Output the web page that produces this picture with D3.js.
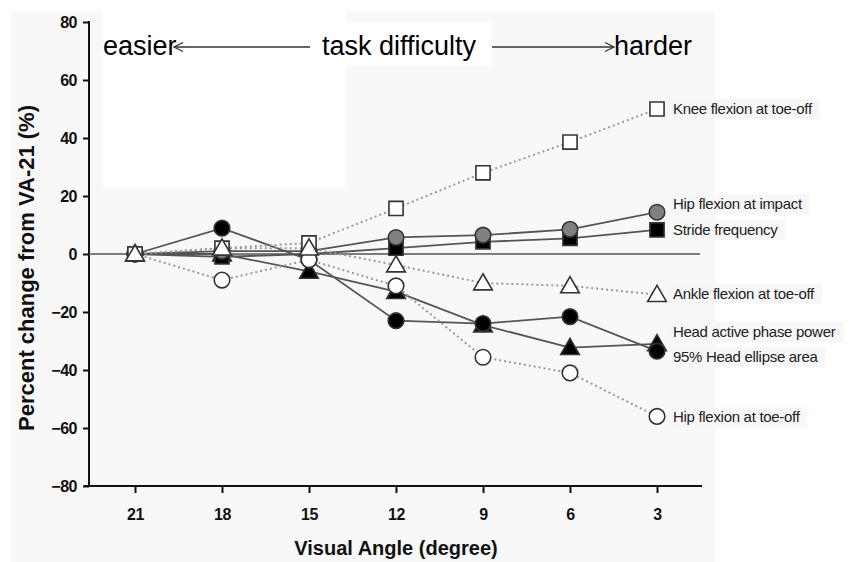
<!DOCTYPE html>
<html>
<head>
  <meta charset="utf-8">
  <title>Percent change from VA-21</title>
  <script src="https://d3js.org/d3.v7.min.js"></script>
  <style>
    body { margin: 0; background: #fff; }
    svg { font-family: "Liberation Sans", Arial, sans-serif; }
    .tick text { font-weight: bold; font-size: 16px; fill: #111; }
    .tick line { stroke: #111; stroke-width: 2px; }
  </style>
</head>
<body>
<svg id="chart" width="856" height="562"></svg>
<script>
// visual angle categories (degree), easier -> harder
var angles = ["21", "18", "15", "12", "9", "6", "3"];
var yTicks = [-80, -60, -40, -20, 0, 20, 40, 60, 80];

// percent change from VA-21
var kneeToeOff    = [0, 2, 3.8, 15.7, 28, 38.6, 50];
var hipImpact     = [0, 1, 1, 5.7, 6.5, 8.5, 14.4];
var strideFreq    = [0, -1, 0, 2, 4.2, 5.4, 8.3];
var ankleToeOff   = [0, 2, 2, -3.8, -10, -11, -14];
var headPower     = [0, 0, -6, -13, -24.5, -32.3, -31];
var headEllipse   = [0, 8.9, -2, -23, -24, -21.6, -33.5];
var hipToeOff     = [0, -9, -2, -11, -35.6, -41, -56];

// draw order: back to front
var series = [
  {name: "Head active phase power", values: headPower,   shape: "triangle", fill: "#000", dotted: false, dy: -7},
  {name: "Stride frequency",        values: strideFreq,  shape: "square",   fill: "#000", dotted: false, dy: 5},
  {name: "Hip flexion at impact",   values: hipImpact,   shape: "circle",   fill: "#808080", dotted: false, dy: -3},
  {name: "95% Head ellipse area",   values: headEllipse, shape: "circle",   fill: "#000", dotted: false, dy: 11},
  {name: "Hip flexion at toe-off",  values: hipToeOff,   shape: "circle",   fill: "#fff", dotted: true, dy: 6},
  {name: "Knee flexion at toe-off", values: kneeToeOff,  shape: "square",   fill: "#fff", dotted: true, dy: 5},
  {name: "Ankle flexion at toe-off",values: ankleToeOff, shape: "triangle", fill: "#fff", dotted: true, dy: 4}
];

var svg = d3.select("#chart");

// backgrounds of the pasted figure
svg.append("rect").attr("x", 11).attr("y", 11).attr("width", 704).attr("height", 551).attr("fill", "#f8f8f8");
svg.append("rect").attr("x", 103).attr("y", 11).attr("width", 243).attr("height", 177).attr("fill", "#fff");
svg.append("rect").attr("x", 345).attr("y", 22).attr("width", 147).attr("height", 44).attr("fill", "#fff");

var x = d3.scalePoint().domain(angles).range([135, 657]);
var y = d3.scaleLinear().domain([-80, 80]).range([486, 22]);

// axes
var yAxis = svg.append("g")
  .attr("transform", "translate(89,0)")
  .call(d3.axisLeft(y).tickValues(yTicks).tickSize(6).tickSizeOuter(0).tickPadding(6)
    .tickFormat(d3.format("d")));
yAxis.select(".domain").remove();
yAxis.selectAll(".tick text").attr("dy", "0.36em").attr("letter-spacing", "-0.5");
svg.append("line").attr("x1", 89).attr("x2", 89).attr("y1", y(80) - 1).attr("y2", y(-80))
  .attr("stroke", "#111").attr("stroke-width", 2);

var xAxis = svg.append("g")
  .attr("transform", "translate(0," + y(-80) + ")")
  .call(d3.axisBottom(x).tickSize(7).tickSizeOuter(0).tickPadding(16));
xAxis.select(".domain").remove();
xAxis.selectAll(".tick text").attr("letter-spacing", "-0.5");
svg.append("line").attr("x1", 84).attr("x2", 702).attr("y1", y(-80)).attr("y2", y(-80))
  .attr("stroke", "#111").attr("stroke-width", 2);

// zero reference line
svg.append("line").attr("x1", 89).attr("x2", 700).attr("y1", y(0)).attr("y2", y(0))
  .attr("stroke", "#555").attr("stroke-width", 1.5);

// axis titles
svg.append("text")
  .attr("x", 396).attr("y", 555)
  .attr("text-anchor", "middle")
  .attr("font-weight", "bold").attr("font-size", 20).attr("fill", "#111")
  .text("Visual Angle (degree)");
svg.append("text")
  .attr("transform", "translate(34,268) rotate(-90)")
  .attr("text-anchor", "middle")
  .attr("font-weight", "bold").attr("font-size", 22).attr("fill", "#111")
  .text("Percent change from VA-21 (%)");

// lines
var line = d3.line()
  .x(function(d, i) { return x(angles[i]); })
  .y(function(d) { return y(d); });

svg.selectAll(".series-line")
  .data(series)
  .enter()
  .append("path")
  .attr("class", "series-line")
  .attr("d", function(d) { return line(d.values); })
  .attr("fill", "none")
  .attr("stroke", function(d) { return d.dotted ? "#999" : "#555"; })
  .attr("stroke-width", function(d) { return d.dotted ? 2 : 1.8; })
  .attr("stroke-dasharray", function(d) { return d.dotted ? "2,3" : null; });

// markers
var symbolType = {circle: d3.symbolCircle, square: d3.symbolSquare, triangle: d3.symbolTriangle};
var symbolSize = {circle: 190, square: 200, triangle: 150};

series.forEach(function(s) {
  var sym = d3.symbol().type(symbolType[s.shape]).size(symbolSize[s.shape]);
  svg.append("g").selectAll("path")
    .data(s.values)
    .enter()
    .append("path")
    .attr("transform", function(d, i) {
      var off = s.shape === "triangle" ? 1.5 : 0;
      return "translate(" + x(angles[i]) + "," + (y(d) + off) + ")";
    })
    .attr("d", sym)
    .attr("fill", s.fill)
    .attr("stroke", "#333")
    .attr("stroke-width", 1.6);
});

// end labels
var labels = svg.append("g").selectAll("g")
  .data(series)
  .enter()
  .append("g")
  .attr("transform", function(d) {
    return "translate(" + (x("3") + 16) + "," + (y(d.values[d.values.length - 1]) + d.dy) + ")";
  });
labels.append("rect")
  .attr("x", -4).attr("y", -15).attr("height", 20)
  .attr("fill", "#f7f7f7");
labels.append("text")
  .attr("font-size", 15).attr("fill", "#222").attr("letter-spacing", "-0.3")
  .text(function(d) { return d.name; });
labels.each(function() {
  var g = d3.select(this);
  var w = g.select("text").node().getComputedTextLength();
  g.select("rect").attr("width", w + 12);
});

// task difficulty annotation
var ann = svg.append("g").attr("font-size", 27).attr("fill", "#000");
ann.append("text").attr("x", 103).attr("y", 55).text("easier");
ann.append("text").attr("x", 322).attr("y", 55).text("task difficulty");
ann.append("text").attr("x", 614).attr("y", 55).text("harder");

var arrow = svg.append("g").attr("stroke", "#333").attr("stroke-width", 1.3).attr("fill", "none");
arrow.append("line").attr("x1", 174).attr("x2", 310).attr("y1", 47).attr("y2", 47);
arrow.append("path").attr("d", "M183,42.5L174,47L183,51.5");
arrow.append("line").attr("x1", 492).attr("x2", 614).attr("y1", 47).attr("y2", 47);
arrow.append("path").attr("d", "M605,42.5L614,47L605,51.5");
</script>
</body>
</html>
